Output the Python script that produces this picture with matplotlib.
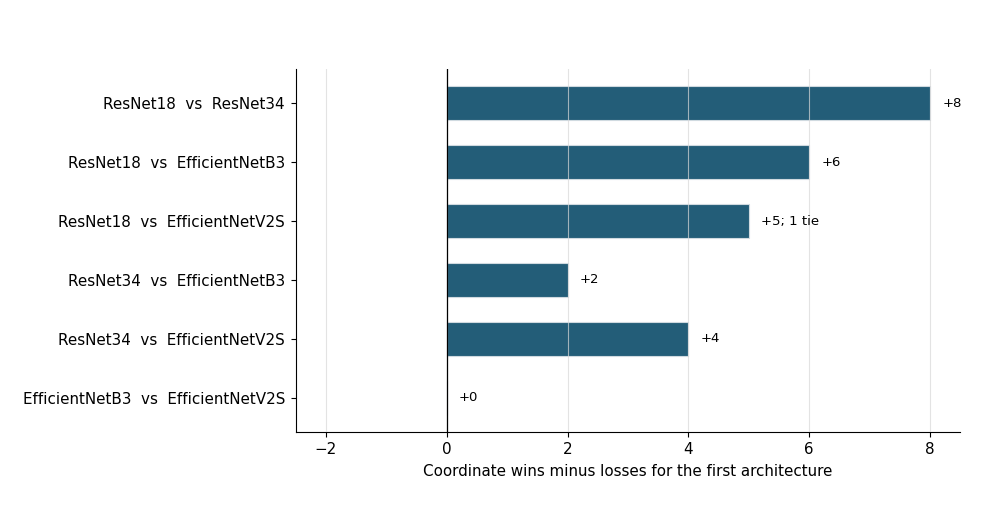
import matplotlib
matplotlib.use("Agg")
import matplotlib.pyplot as plt

# === Data ===
pairs = [
    "ResNet18  vs  ResNet34",
    "ResNet18  vs  EfficientNetB3",
    "ResNet18  vs  EfficientNetV2S",
    "ResNet34  vs  EfficientNetB3",
    "ResNet34  vs  EfficientNetV2S",
    "EfficientNetB3  vs  EfficientNetV2S",
]
net_wins = [8, 6, 5, 2, 4, 0]
bar_labels = ["+8", "+6", "+5; 1 tie", "+2", "+4", "+0"]

# === Plot ===
fig = plt.figure(figsize=(9.92, 5.08), dpi=100)
ax = fig.add_axes([0.298, 0.150, 0.670, 0.714])

ypos = list(range(len(pairs)))
ax.barh(ypos, net_wins, height=0.58, color="#235d78", edgecolor="#d0dae0",
        linewidth=0.8, zorder=1)
ax.axvline(0, color="black", linewidth=0.9, zorder=3)

for y, v, lab in zip(ypos, net_wins, bar_labels):
    ax.text(v + 0.2, y, lab, va="center", ha="left", fontsize=9.5)

ax.set_yticks(ypos)
ax.set_yticklabels(pairs, fontsize=10.9)
ax.set_xlim(-2.5, 8.5)
ax.set_ylim(5.58, -0.58)
ax.set_xticks([-2, 0, 2, 4, 6, 8])
ax.tick_params(axis="x", labelsize=10.9, length=3.8, pad=3.8)
ax.tick_params(axis="y", length=3.8, pad=3.8)
ax.set_xlabel("Coordinate wins minus losses for the first architecture",
              fontsize=10.9, labelpad=4.5)

ax.grid(axis="x", color="#d8d8d8", linewidth=0.8, alpha=0.7, zorder=2)
ax.set_axisbelow(False)
for side in ("top", "right"):
    ax.spines[side].set_visible(False)

fig.savefig("out.png", dpi=100)
